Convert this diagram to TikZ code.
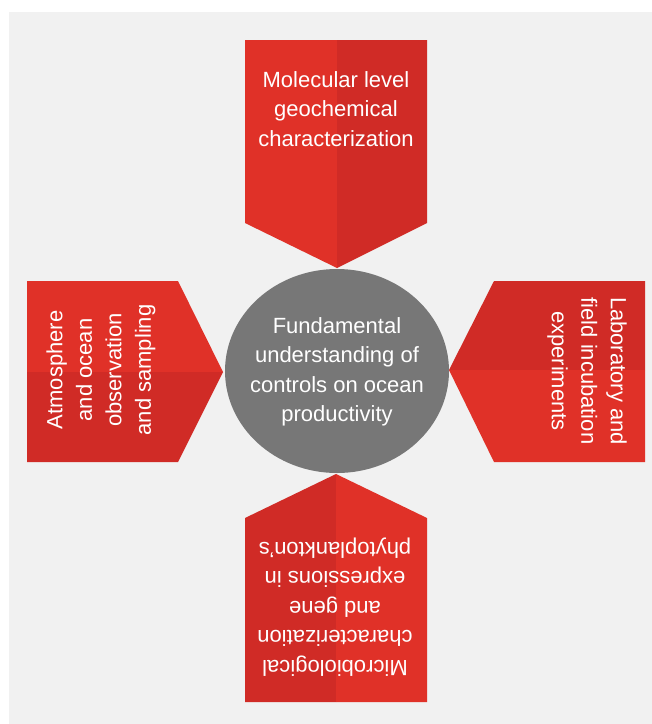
\documentclass[tikz,border=0pt]{standalone}
\usepackage{fontspec}
\setmainfont{Liberation Sans}
\usetikzlibrary{shapes.geometric}
\definecolor{redL}{HTML}{E03128}
\definecolor{redD}{HTML}{D02B26}
\definecolor{bgpanel}{HTML}{F1F1F1}
\definecolor{circ}{HTML}{777777}
\begin{document}
\begin{tikzpicture}[x=1pt,y=-1pt,
  lbl/.style={text=white, align=center, inner sep=0pt, font=\fontsize{22}{29.5}\selectfont}]
\useasboundingbox (0,0) rectangle (652,724);
\fill[white] (0,0) rectangle (652,724);
\fill[bgpanel] (9,12) rectangle (652,724);
% top arrow
\fill[redL] (245,40) -- (337,40) -- (337,268) -- (245,223) -- cycle;
\fill[redD] (337,40) -- (427,40) -- (427,223) -- (337,268) -- cycle;
% left arrow
\fill[redL] (27,281) -- (178,281) -- (223,372) -- (27,372) -- cycle;
\fill[redD] (27,372) -- (223,372) -- (178,462) -- (27,462) -- cycle;
% right arrow
\fill[redD] (645,281) -- (494,281) -- (449,370) -- (645,370) -- cycle;
\fill[redL] (645,370) -- (449,370) -- (494,462) -- (645,462) -- cycle;
% bottom arrow
\fill[redD] (245,702) -- (336,702) -- (336,474) -- (245,518) -- cycle;
\fill[redL] (336,702) -- (427,702) -- (427,518) -- (336,474) -- cycle;
% centre
\node[ellipse, fill=circ, minimum width=224pt, minimum height=204pt, inner sep=0pt] (c) at (337,371) {};
\node[lbl] (ct) at (337,372) {Fundamental\\understanding of\\controls on ocean\\productivity};
\node[lbl] (t) at (336,109) {Molecular level\\geochemical\\characterization};
\node[lbl, rotate=90] (l) at (101,370) {Atmosphere\\and ocean\\observation\\and sampling};
\node[lbl, rotate=-90] (r) at (587,371) {Laboratory and\\field incubation\\experiments};
\node[lbl, rotate=180] (b) at (335,607) {Microbiological\\characterization\\and gene\\expressions in\\phytoplankton's};
\end{tikzpicture}
\end{document}
